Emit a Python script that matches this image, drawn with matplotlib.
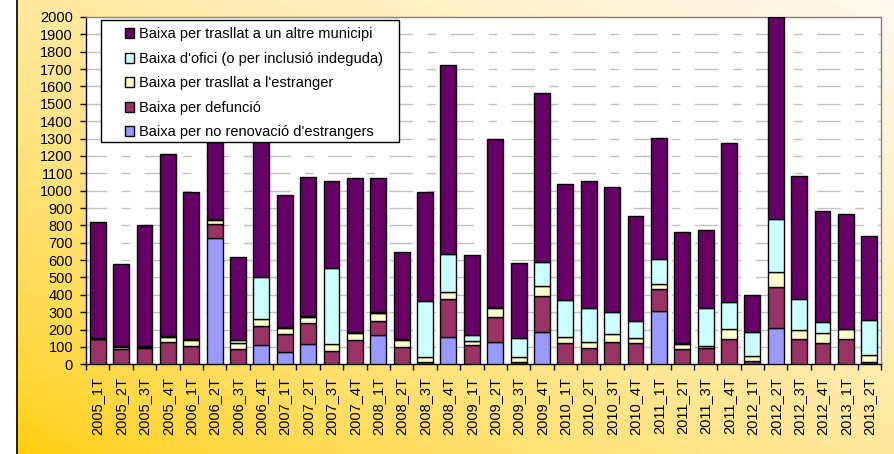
import numpy as np
import matplotlib
matplotlib.use('Agg')
import matplotlib.pyplot as plt
from matplotlib.patches import Rectangle, Patch
from matplotlib.lines import Line2D

plt.rcParams['font.family'] = ['Liberation Sans', 'DejaVu Sans']

# Data.

periods = ['2005_1T', '2005_2T', '2005_3T', '2005_4T',
           '2006_1T', '2006_2T', '2006_3T', '2006_4T',
           '2007_1T', '2007_2T', '2007_3T', '2007_4T',
           '2008_1T', '2008_2T', '2008_3T', '2008_4T',
           '2009_1T', '2009_2T', '2009_3T', '2009_4T',
           '2010_1T', '2010_2T', '2010_3T', '2010_4T',
           '2011_1T', '2011_2T', '2011_3T', '2011_4T',
           '2012_1T', '2012_2T', '2012_3T', '2012_4T',
           '2013_1T', '2013_2T']

no_renovacio = [0, 0, 0, 0, 0, 730, 0, 111, 71, 119, 0, 0, 169, 0, 0, 156,
                0, 126, 0, 186, 0, 0, 0, 0, 308, 0, 0, 0, 0, 211, 0, 0, 0, 0]
defuncio = [143, 88, 92, 127, 107, 78, 88, 110, 106, 118, 79, 140, 81, 102, 15, 219,
            111, 144, 12, 210, 125, 96, 131, 125, 127, 86, 92, 146, 17, 237, 146, 123,
            146, 15]
estranger = [5, 10, 8, 29, 35, 23, 35, 40, 31, 38, 36, 39, 44, 38, 25, 40,
             25, 53, 28, 56, 33, 31, 43, 29, 25, 33, 15, 56, 33, 83, 54, 59, 60, 39]
ofici = [5, 7, 6, 8, 5, 5, 15, 243, 9, 5, 442, 6, 6, 6, 327, 221,
         31, 7, 113, 138, 210, 200, 129, 98, 148, 3, 220, 156, 135, 307, 177, 60, 0, 202]
altre_municipi = [667, 475, 694, 1046, 848, 444, 482, 781, 758, 800, 498, 890, 775, 499, 628, 1089,
                  463, 970, 432, 975, 672, 728, 717, 603, 697, 638, 448, 917, 215, 1162, 708, 643,
                  659, 484]

# Stacking order, bottom first.
series = [no_renovacio, defuncio, estranger, ofici, altre_municipi]
labels = ["Baixa per no renovació d'estrangers",
          "Baixa per defunció",
          "Baixa per trasllat a l'estranger",
          "Baixa d'ofici (o per inclusió indeguda)",
          "Baixa per trasllat a un altre municipi"]
colors = ['#9999FF', '#993366', '#FFFFCC', '#CCFFFF', '#660066']

W, H = 894, 454
fig = plt.figure(figsize=(W / 100, H / 100), dpi=100)
fig.patch.set_facecolor('white')

# Gradient background of the chart area.
bg = fig.add_axes([16 / W, 0, 1 - 16 / W, 1], zorder=-2)
gx, gy = np.meshgrid(np.linspace(0, 1, 400), np.linspace(0, 1, 200))
t = ((gx + gy) / 2) ** 0.6
c0 = np.array([255, 204, 0]) / 255
c1 = np.array([255, 248, 238]) / 255
img = c0[None, None, :] + (c1 - c0)[None, None, :] * t[:, :, None]
bg.imshow(img, origin='lower', extent=[0, 1, 0, 1], aspect='auto')
bg.set_axis_off()
fig.add_artist(Line2D([16.5 / W] * 2, [0, 1], transform=fig.transFigure,
                      color='black', lw=1.2))

# Plot area.
ax = fig.add_axes([86 / W, 1 - 364.3 / H, (881 - 86) / W, (364.3 - 17) / H])
ax.set_facecolor('white')

x = np.arange(len(periods))
bottom = np.zeros(len(periods))
for vals, col in zip(series, colors):
    ax.bar(x, vals, width=0.68, bottom=bottom, color=col, edgecolor='black',
           linewidth=1.0, zorder=3)
    bottom += np.array(vals)

ax.set_xlim(-0.5, len(periods) - 0.5)
ax.set_ylim(0, 2000)

# Dashed gridlines.
for v in range(100, 2000, 100):
    ax.axhline(v, color='#C0C0C0', lw=1.0, linestyle=(2, (17, 10.4, 6.2, 10.4)), zorder=1)

ax.set_xticks(x)
ax.set_xticklabels(periods, rotation=90, fontsize=10.5)
ax.tick_params(axis='x', which='major', length=0, pad=9)
ax.set_xticks(np.arange(-0.5, len(periods), 1), minor=True)
ax.tick_params(axis='x', which='minor', length=4, width=1, direction='out')

ax.set_yticks(range(0, 2001, 100))
ax.tick_params(axis='y', length=4.3, width=1, pad=5, labelsize=10.5)

for s in ['left', 'bottom']:
    ax.spines[s].set_color('black')
    ax.spines[s].set_linewidth(1.0)
for s in ['top', 'right']:
    ax.spines[s].set_color('#808080')
    ax.spines[s].set_linewidth(1.0)

# Legend: frame drawn separately, entries in reverse stacking order.
ax.add_patch(Rectangle((0.0189, 0.6406), 0.3748, 0.3516, transform=ax.transAxes,
                       facecolor='white', edgecolor='black', lw=1.0, zorder=5,
                       clip_on=False))
handles = [Patch(facecolor=c, edgecolor='black', lw=1.0) for c in colors[::-1]]
leg = ax.legend(handles, labels[::-1], loc='upper left', bbox_to_anchor=(0.0485, 0.970),
                frameon=False, borderpad=0, borderaxespad=0, fontsize=10.5,
                handlelength=0.68, handleheight=0.68, handletextpad=0.3,
                labelspacing=0.72)
leg.set_zorder(6)

fig.savefig('out.png', dpi=100)
